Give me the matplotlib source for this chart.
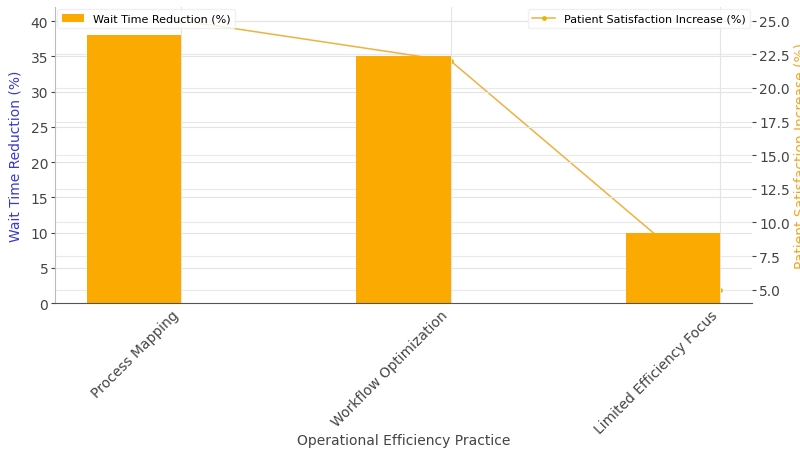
import matplotlib
matplotlib.use("Agg")
import matplotlib.pyplot as plt
import numpy as np

practices = ["Process Mapping", "Workflow Optimization", "Limited Efficiency Focus"]
wait_time_reduction = [38, 35, 10]
satisfaction_increase = [25, 22, 5]

bar_color = "#FAAA00"
line_color = "#EFB140"

fig = plt.figure(figsize=(8, 4.52), dpi=100)
ax1 = fig.add_axes([0.069, 0.327, 0.871, 0.655])
ax2 = ax1.twinx()
# bars sit above the satisfaction line
ax1.set_zorder(ax2.get_zorder() + 1)
ax1.patch.set_visible(False)

x = np.arange(len(practices))
width = 0.35

ax1.set_axisbelow(True)
ax1.grid(True, color="#e4e4e4", linewidth=0.8)
ax2.grid(True, axis="y", color="#e9e9e9", linewidth=0.8)

bars = ax1.bar(x - width / 2, wait_time_reduction, width, color=bar_color,
               label="Wait Time Reduction (%)", zorder=2)
line, = ax2.plot(x, satisfaction_increase, color=line_color, linewidth=1.1,
                 marker="o", markersize=2.5, markerfacecolor="#E8B800",
                 markeredgecolor="#E8B800",
                 label="Patient Satisfaction Increase (%)")

ax1.set_ylim(0, 42)
ax1.set_xticks(x)
ax1.set_xticklabels(practices, rotation=45, ha="right", fontsize=10, color="#444444")
ax1.tick_params(axis="y", labelsize=10, colors="#444444", length=3, pad=2)
ax1.tick_params(axis="x", length=0, pad=3)
ax2.tick_params(axis="y", labelsize=10, colors="#444444", length=3, pad=2)

ax1.set_xlabel("Operational Efficiency Practice", fontsize=10, color="#444444",
               labelpad=-2)
ax1.set_ylabel("Wait Time Reduction (%)", fontsize=10, color="#3a3ad0", labelpad=6)
ax2.set_ylabel("Patient Satisfaction Increase (%)", fontsize=10, color="#F5A623",
               labelpad=3)

for ax in (ax1, ax2):
    ax.spines["top"].set_visible(False)
    ax.spines["right"].set_visible(False)
ax1.spines["left"].set_color("#bbbbbb")
ax1.spines["bottom"].set_color("#555555")
ax2.spines["left"].set_visible(False)
ax2.spines["bottom"].set_visible(False)

leg1 = ax1.legend(handles=[bars], loc="upper left", fontsize=8, framealpha=0.85,
                  edgecolor="#eeeeee", borderaxespad=0.2)
ax1.add_artist(leg1)
ax1.legend(handles=[line], loc="upper right", fontsize=8, framealpha=0.85,
           edgecolor="#eeeeee", borderaxespad=0.2)

fig.savefig("out.png", dpi=100)
